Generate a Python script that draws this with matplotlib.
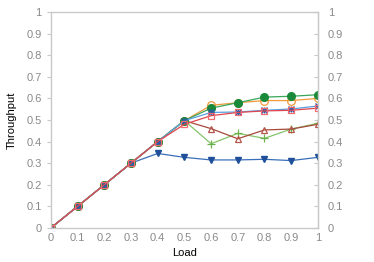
import matplotlib.pyplot as plt

load = [0, 0.1, 0.2, 0.3, 0.4, 0.5, 0.6, 0.7, 0.8, 0.9, 1.0]

tp_green = [0, 0.1, 0.2, 0.3, 0.4, 0.497, 0.555, 0.58, 0.606, 0.61, 0.617]
tp_orange = [0, 0.1, 0.2, 0.3, 0.4, 0.497, 0.568, 0.58, 0.59, 0.59, 0.60]
tp_star = [0, 0.1, 0.2, 0.3, 0.4, 0.497, 0.535, 0.537, 0.545, 0.551, 0.565]
tp_square = [0, 0.1, 0.2, 0.3, 0.4, 0.48, 0.52, 0.535, 0.542, 0.545, 0.555]
tp_triangle = [0, 0.1, 0.2, 0.3, 0.4, 0.497, 0.46, 0.413, 0.454, 0.458, 0.48]
tp_plus = [0, 0.1, 0.2, 0.3, 0.4, 0.497, 0.39, 0.438, 0.415, 0.458, 0.485]
tp_down = [0, 0.1, 0.2, 0.3, 0.345, 0.327, 0.315, 0.315, 0.318, 0.312, 0.327]

yticks = [0, 0.1, 0.2, 0.3, 0.4, 0.5, 0.6, 0.7, 0.8, 0.9, 1]
ytick_labels = ["0", "0.1", "0.2", "0.3", "0.4", "0.5", "0.6", "0.7", "0.8", "0.9", "1"]
xtick_labels = ["0", "0.1", "0.2", "0.3", "0.4", "0.5", "0.6", "0.7", "0.8", "0.9", "1"]

plt.rcParams['font.family'] = ['Liberation Sans', 'DejaVu Sans']

fig = plt.figure(figsize=(3.74, 2.62), dpi=100)
ax = fig.add_axes([0.136, 0.13, 0.714, 0.824])

ms = 5
lw = 0.9
ax.plot(load, tp_down, color="#3a6fb8", lw=lw, marker="v", ms=ms,
        mfc="#1f4f9a", mec="#1f4f9a")
ax.plot(load, tp_plus, color="#86c46a", lw=lw, marker="+", ms=ms + 1,
        mew=0.9, mec="#6ab04c")
ax.plot(load, tp_triangle, color="#a8493c", lw=lw, marker="^", ms=ms,
        mfc="none", mec="#b5564a", mew=0.9)
ax.plot(load, tp_orange, color="#f29a3a", lw=lw, marker="o", ms=ms + 0.5,
        mfc="none", mec="#f29a3a", mew=0.9)
ax.plot(load, tp_green, color="#3aa65a", lw=lw, marker="o", ms=ms + 0.5,
        mfc="#1a8a3a", mec="#1a8a3a")
ax.plot(load, tp_star, color="#5aa0e0", lw=lw, marker="x", ms=ms,
        mec="#2a5aa8", mew=1.0)
ax.plot(load, tp_star, color="none", marker="+", ms=ms,
        mec="#2a5aa8", mew=1.0)
ax.plot(load, tp_square, color="#e0464e", lw=lw, marker="s", ms=ms,
        mfc="none", mec="#f06a6e", mew=0.9)

ax.set_xlim(0, 1)
ax.set_ylim(0, 1)
ax.set_xticks(load)
ax.set_xticklabels(xtick_labels)
ax.set_yticks(yticks)
ax.set_yticklabels(ytick_labels)

for s in ax.spines.values():
    s.set_color("#c8c8c8")
    s.set_linewidth(1.0)

ax.tick_params(axis="both", colors="#c8c8c8", labelcolor="#8a8a8a",
               labelsize=8, length=3, width=0.8)
ax.tick_params(axis="y", direction="out")
ax.tick_params(axis="x", length=0)

# right axis: same ticks, pointing inward
sec = ax.secondary_yaxis("right")
sec.set_yticks(yticks)
sec.set_yticklabels(ytick_labels)
sec.spines["right"].set_color("#c8c8c8")
sec.tick_params(axis="y", direction="in", colors="#c8c8c8", labelcolor="#8a8a8a",
                labelsize=8, length=3, width=0.8, pad=7)

ax.set_xlabel("Load", fontsize=8, labelpad=4)
ax.set_ylabel("Throughput", fontsize=8, labelpad=7)

fig.savefig("out.png", dpi=100)
